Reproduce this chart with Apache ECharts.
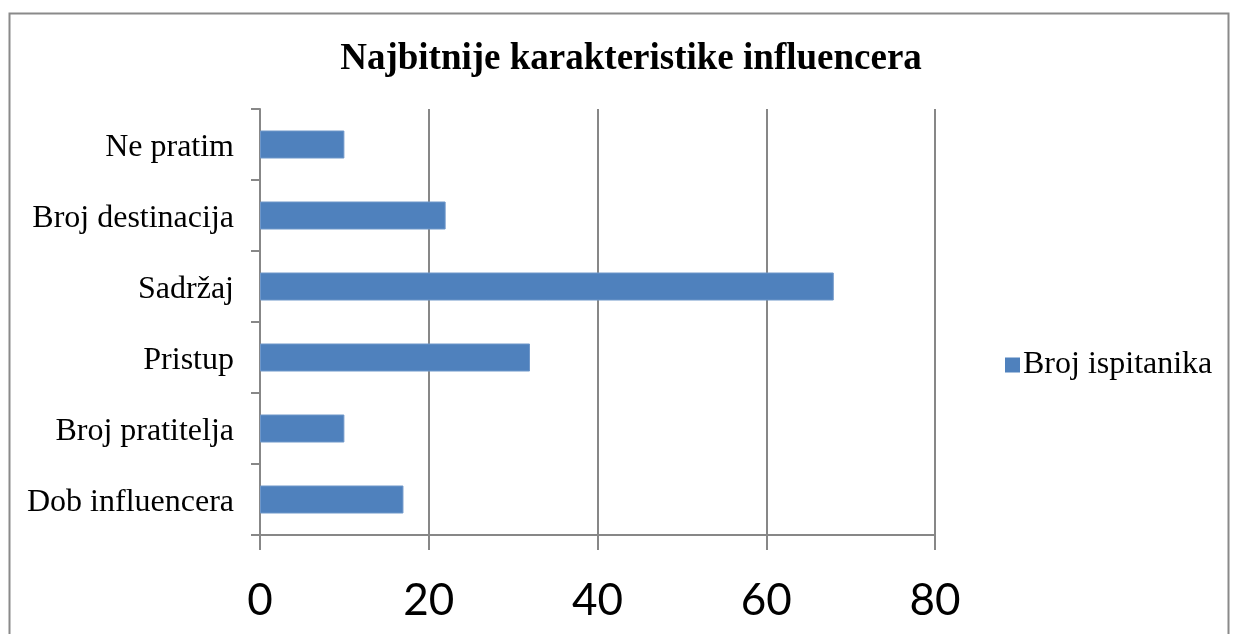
<!DOCTYPE html>
<html>
<head>
<meta charset="utf-8">
<script src="https://cdn.jsdelivr.net/npm/echarts@6/dist/echarts.min.js"></script>
<style>html,body{margin:0;padding:0;background:#fff}#c{width:1233px;height:634px}</style>
</head>
<body>
<div id="c"></div>
<script>
const titleText = 'Najbitnije karakteristike influencera';
const categories = ['Ne pratim', 'Broj destinacija', 'Sadržaj', 'Pristup', 'Broj pratitelja', 'Dob influencera'];
const seriesName = 'Broj ispitanika';
const values = [10, 22, 68, 32, 10, 17];
const xTicks = [0, 20, 40, 60, 80];

const chart = echarts.init(document.getElementById('c'), null, {renderer: 'canvas'});
const gray = '#878787';
chart.setOption({
  animation: false,
  backgroundColor: '#fff',
  title: {
    text: titleText, left: 626, textAlign: 'center', top: 36,
    textStyle: {fontFamily: 'Liberation Serif', fontWeight: 'bold', fontSize: 37, color: '#000'}
  },
  legend: {
    data: [{name: seriesName, icon: 'rect', itemStyle: {borderWidth: 0}}],
    left: 1000, top: 344, itemWidth: 15, itemHeight: 15, itemGap: 4,
    textStyle: {fontFamily: 'Liberation Serif', fontSize: 32, color: '#000', padding: [0,0,0,-2]}
  },
  graphic: [{
    type: 'rect', shape: {x: 9.5, y: 13.5, width: 1219, height: 700},
    style: {fill: 'none', stroke: '#8a8a8a', lineWidth: 2}, silent: true, z: -1
  }],
  grid: {left: 260, right: 298, top: 109, bottom: 99},
  xAxis: {
    type: 'value', min: xTicks[0], max: xTicks[xTicks.length - 1], interval: 20,
    axisLine: {show: true, lineStyle: {color: gray, width: 2}},
    axisTick: {show: true, length: 15, lineStyle: {color: gray, width: 2}},
    splitLine: {show: true, lineStyle: {color: gray, width: 2}},
    axisLabel: {fontFamily: 'Lato', fontSize: 44, color: '#000', margin: 44}
  },
  yAxis: {
    type: 'category', data: categories, inverse: true,
    axisLine: {show: true, lineStyle: {color: gray, width: 2}},
    axisTick: {show: true, length: 9, lineStyle: {color: gray, width: 2}},
    axisLabel: {
      margin: 26,
      formatter: function (v) { return '{a|' + v + '}'; },
      rich: {a: {fontFamily: 'Liberation Serif', fontSize: 32, color: '#000', padding: [6, 0, 0, 0]}}
    }
  },
  series: [{
    name: seriesName, type: 'bar', data: values, barWidth: 28,
    itemStyle: {color: '#4F81BD', borderColor: '#6f97c9', borderWidth: 1}
  }]
});
</script>
</body>
</html>
